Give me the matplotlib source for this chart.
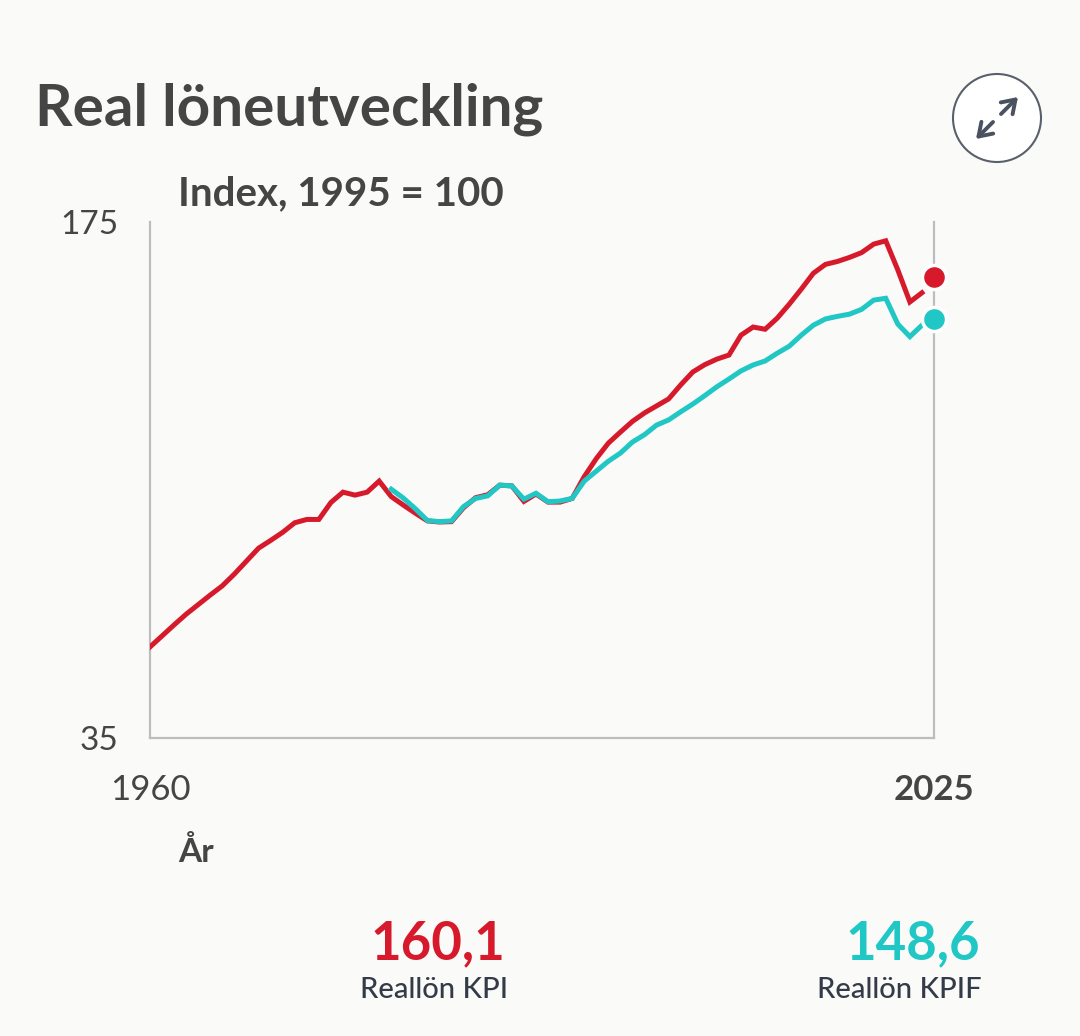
import matplotlib.pyplot as plt
from matplotlib.patches import Circle

# data (index, 1995 = 100)
years_kpi = list(range(1960, 2025))
real_kpi = [59.7, 62.7, 65.7, 68.6, 71.2, 73.8, 76.3, 79.5, 83.0, 86.5,
            88.6, 90.8, 93.4, 94.3, 94.3, 98.9, 101.7, 100.9, 101.7, 104.7,
            100.5, 98.2, 96.0, 93.9, 93.6, 93.7, 97.5, 100.2, 101.0, 103.6,
            103.4, 99.2, 101.2, 99.0, 99.0, 100.0, 105.9, 110.8, 115.0, 118.0,
            120.9, 123.2, 125.1, 127.0, 130.8, 134.3, 136.3, 137.8, 138.9, 144.3,
            146.5, 145.9, 148.9, 152.7, 156.8, 161.1, 163.5, 164.3, 165.4, 166.7,
            169.0, 169.9, 162.0, 153.3, 155.8]
years_kpif = list(range(1980, 2025))
real_kpif = [102.5, 100.1, 97.2, 94.0, 93.7, 93.9, 97.8, 100.0, 100.7, 103.6,
             103.4, 99.8, 101.4, 99.1, 99.3, 100.0, 104.7, 107.4, 110.1, 112.3,
             115.3, 117.3, 119.9, 121.3, 123.5, 125.6, 127.9, 130.3, 132.4, 134.6,
             136.2, 137.3, 139.4, 141.3, 144.3, 147.0, 148.7, 149.4, 150.0, 151.3,
             153.8, 154.3, 147.3, 143.9, 147.0]
last_year = 2025
last_kpi = 160.1
last_kpif = 148.6

red = '#d61a2b'
teal = '#20c7c4'
bg = '#fafaf8'
dark = '#454545'
slate = '#333b48'

plt.rcParams['font.family'] = ['Lato', 'DejaVu Sans']

W, H = 1080, 1036
fig = plt.figure(figsize=(W / 100, H / 100), dpi=100, facecolor=bg)

def fx(px):
    return px / W

def fy(py):
    return 1 - py / H

ax = fig.add_axes([fx(150), fy(738), fx(934) - fx(150), fy(222) - fy(738)])
ax.set_facecolor(bg)

ax.plot(years_kpi, real_kpi, color=red, lw=3.6, solid_joinstyle='miter', zorder=3)
ax.plot(years_kpif, real_kpif, color=teal, lw=3.6, solid_joinstyle='miter', zorder=4)
ax.scatter([last_year], [last_kpi], s=300, color=red, edgecolor='white', linewidth=2.5, zorder=5, clip_on=False)
ax.scatter([last_year], [last_kpif], s=300, color=teal, edgecolor='white', linewidth=2.5, zorder=5, clip_on=False)

ax.set_xlim(1960, 2025)
ax.set_ylim(35, 175)

for side in ['left', 'right', 'bottom']:
    ax.spines[side].set_color('#bdbdbd')
    ax.spines[side].set_linewidth(1.6)
ax.spines['top'].set_visible(False)

ax.set_yticks([35, 175])
ax.set_yticklabels(['35', '175'])
ax.set_xticks([1960, 2025])
ax.set_xticklabels(['1960', '2025'])
ax.tick_params(axis='y', length=0, pad=23, labelsize=24, labelcolor=dark)
ax.tick_params(axis='x', length=0, pad=26, labelsize=25, labelcolor=dark)
ax.get_xticklabels()[1].set_fontweight('bold')

# titles
fig.text(fx(35), fy(125), 'Real löneutveckling', fontsize=42, fontweight='bold',
         color=dark, ha='left', va='baseline')
fig.text(fx(178), fy(205), 'Index, 1995 = 100', fontsize=29, fontweight='bold',
         color=dark, ha='left', va='baseline')
fig.text(fx(178), fy(862), 'År', fontsize=24, fontweight='bold',
         color=dark, ha='left', va='baseline')

# summary values
fig.text(fx(505), fy(959), '160,1', fontsize=38, fontweight='bold', color=red,
         ha='right', va='baseline')
fig.text(fx(508), fy(998), 'Reallön KPI', fontsize=21, fontweight='medium', color=slate,
         ha='right', va='baseline')
fig.text(fx(980), fy(959), '148,6', fontsize=38, fontweight='bold', color=teal,
         ha='right', va='baseline')
fig.text(fx(982), fy(998), 'Reallön KPIF', fontsize=21, fontweight='medium', color=slate,
         ha='right', va='baseline')

# expand icon
icon = Circle((997, H - 118), 44, transform=None, facecolor='white',
              edgecolor='#5a606b', lw=1.5)
fig.add_artist(icon)
arrow = dict(arrowstyle='->,head_length=0.45,head_width=0.3', color='#4a5260', lw=2.8,
             mutation_scale=20, shrinkA=0, shrinkB=0)
fig.add_artist(plt.annotate('', xy=(fx(1018), fy(97)), xytext=(fx(1001), fy(114)),
                            xycoords='figure fraction', arrowprops=arrow))
fig.add_artist(plt.annotate('', xy=(fx(976), fy(139)), xytext=(fx(993), fy(122)),
                            xycoords='figure fraction', arrowprops=arrow))

plt.savefig('out.png', dpi=100, facecolor=bg)
